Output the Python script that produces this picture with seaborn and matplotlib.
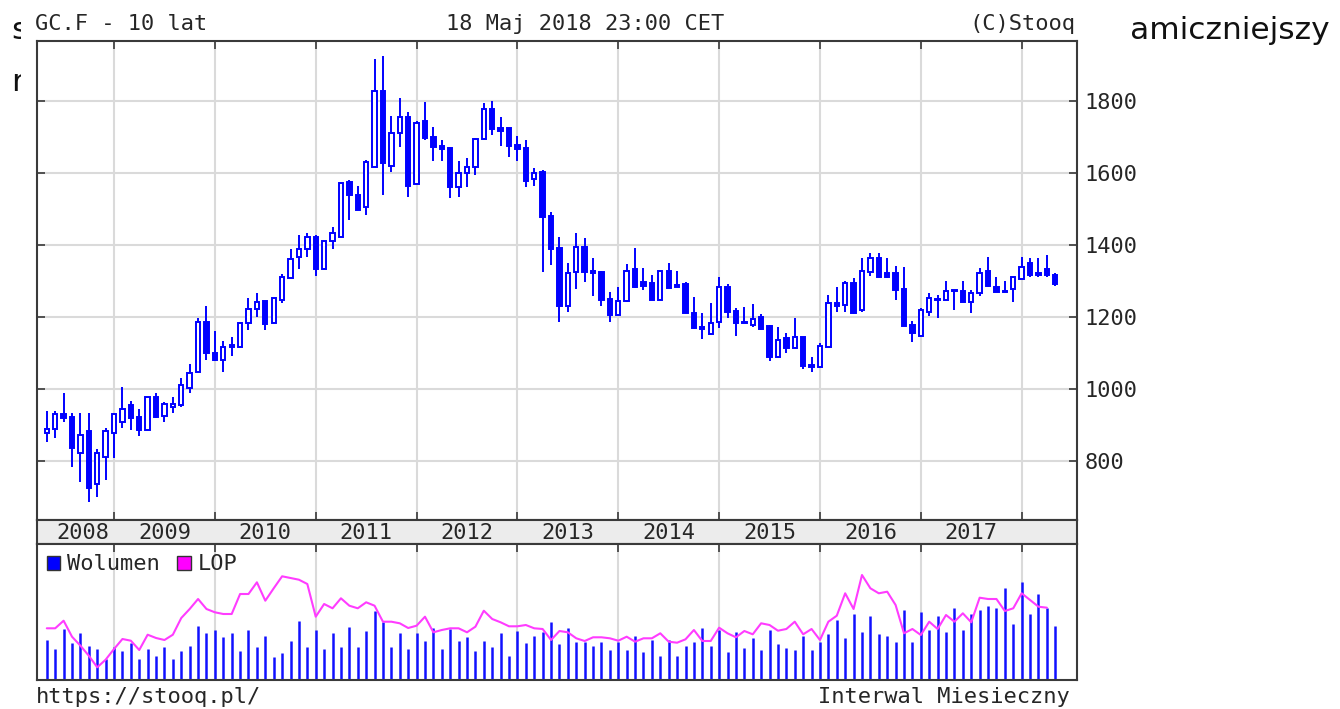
import numpy as np
import pandas as pd
import matplotlib
matplotlib.use("Agg")
import matplotlib.pyplot as plt
from matplotlib.patches import Patch, Rectangle
import seaborn as sns

# ---------------- GC.F, monthly candles May 2008 - May 2018 ----------------
miesiace = pd.date_range("2008-05-01", periods=121, freq="MS")

otwarcie = [878, 888, 930, 923, 822, 883, 737, 810, 877, 909, 955, 923, 886, 978, 926, 951, 956, 1004, 1048, 1185,
            1099, 1081, 1121, 1116, 1182, 1221, 1245, 1182, 1247, 1309, 1366, 1389, 1423, 1333, 1412, 1423, 1575, 1540, 1506, 1616,
            1829, 1619, 1710, 1756, 1569, 1745, 1701, 1675, 1669, 1560, 1601, 1616, 1694, 1777, 1724, 1724, 1678, 1669, 1582, 1604,
            1481, 1391, 1231, 1326, 1395, 1329, 1324, 1250, 1206, 1244, 1333, 1298, 1295, 1247, 1329, 1289, 1292, 1212, 1171, 1153,
            1187, 1284, 1217, 1184, 1178, 1199, 1176, 1088, 1141, 1113, 1145, 1067, 1060, 1116, 1240, 1233, 1295, 1219, 1326, 1363,
            1323, 1323, 1277, 1178, 1147, 1215, 1251, 1247, 1276, 1272, 1242, 1266, 1329, 1282, 1273, 1277, 1305, 1351, 1323, 1333,
            1317]
maksimum = [940, 940, 990, 932, 934, 934, 832, 891, 934, 1006, 967, 943, 978, 990, 965, 979, 1030, 1070, 1196, 1231,
            1161, 1134, 1145, 1184, 1252, 1266, 1245, 1254, 1320, 1389, 1428, 1434, 1428, 1412, 1449, 1571, 1581, 1563, 1637, 1918,
            1925, 1758, 1807, 1770, 1745, 1798, 1729, 1692, 1671, 1632, 1641, 1696, 1794, 1801, 1756, 1726, 1702, 1692, 1615, 1608,
            1492, 1423, 1351, 1434, 1419, 1363, 1329, 1269, 1284, 1347, 1391, 1335, 1317, 1329, 1351, 1329, 1298, 1256, 1212, 1240,
            1312, 1292, 1224, 1229, 1236, 1207, 1178, 1173, 1156, 1196, 1145, 1090, 1129, 1261, 1284, 1301, 1307, 1363, 1379, 1379,
            1363, 1342, 1340, 1190, 1224, 1268, 1261, 1301, 1276, 1301, 1275, 1335, 1367, 1310, 1301, 1310, 1367, 1363, 1363, 1372,
            1321]
minimum = [854, 863, 909, 784, 741, 685, 700, 747, 807, 891, 886, 869, 886, 918, 908, 934, 949, 990, 1048, 1081,
           1078, 1048, 1092, 1116, 1164, 1201, 1164, 1182, 1240, 1309, 1333, 1366, 1314, 1333, 1389, 1423, 1469, 1498, 1482, 1616,
           1539, 1604, 1671, 1532, 1569, 1692, 1632, 1632, 1530, 1533, 1562, 1594, 1694, 1706, 1675, 1644, 1632, 1560, 1565, 1326,
           1344, 1187, 1215, 1277, 1298, 1258, 1231, 1187, 1206, 1243, 1280, 1275, 1247, 1247, 1280, 1284, 1210, 1166, 1138, 1150,
           1169, 1196, 1147, 1182, 1173, 1164, 1079, 1085, 1101, 1113, 1055, 1048, 1060, 1116, 1215, 1215, 1208, 1215, 1314, 1312,
           1307, 1247, 1175, 1130, 1147, 1203, 1196, 1247, 1219, 1242, 1210, 1258, 1282, 1270, 1269, 1242, 1305, 1312, 1312, 1312,
           1285]
zamkniecie = [889, 930, 918, 835, 872, 726, 822, 884, 930, 944, 920, 886, 978, 923, 958, 958, 1011, 1044, 1187, 1099,
              1081, 1116, 1117, 1184, 1221, 1242, 1181, 1252, 1312, 1361, 1389, 1423, 1333, 1412, 1434, 1571, 1538, 1498, 1630, 1829,
              1627, 1712, 1756, 1564, 1740, 1696, 1671, 1666, 1560, 1601, 1618, 1694, 1777, 1721, 1718, 1676, 1666, 1578, 1600, 1477,
              1388, 1231, 1323, 1395, 1324, 1321, 1247, 1206, 1245, 1328, 1282, 1287, 1247, 1329, 1280, 1284, 1210, 1169, 1167, 1183,
              1282, 1215, 1182, 1182, 1194, 1166, 1088, 1136, 1113, 1145, 1064, 1060, 1118, 1240, 1231, 1295, 1210, 1329, 1363, 1312,
              1312, 1275, 1175, 1155, 1219, 1252, 1247, 1272, 1272, 1242, 1266, 1323, 1286, 1270, 1269, 1310, 1338, 1317, 1317, 1317,
              1292]
wolumen = [40.3, 31, 51, 36.7, 46.7, 34.3, 31, 21, 33.3, 28.7, 36.7, 21, 31, 24.3, 32.7, 21, 28.7, 34.3, 54.3, 46.7,
           50.3, 42.7, 46.7, 28.7, 50.3, 32.7, 44.3, 22.7, 26.7, 38.7, 58.7, 32.7, 50.3, 30.7, 46.7, 32.7, 52.7, 32.7, 48.7, 68.7,
           57.7, 32.7, 46.7, 30.7, 46.7, 38.7, 52, 30.7, 51, 38.7, 42.7, 28.7, 38.7, 32.7, 46.7, 24.3, 48.7, 36.7, 44.3, 48.3,
           57.7, 35.7, 51.7, 37.7, 38.3, 33.7, 37.7, 29.7, 38.3, 29.7, 43.7, 27.7, 40.3, 23.7, 39.7, 23.7, 33.7, 37.7, 51.7, 33.7,
           49.7, 27.7, 47.7, 31.7, 41.7, 29.7, 49.7, 35.7, 31.7, 29.7, 43.7, 29.7, 37.7, 45.7, 59.7, 41.7, 65.7, 47.7, 63.7, 45.7,
           43.7, 37.7, 69.7, 37.7, 67.7, 49.7, 63.7, 47.7, 71.7, 49.7, 65.7, 69.7, 73.7, 71.7, 91.7, 55.7, 97.7, 65.7, 85.7, 71.7,
           53.7]
lop = [51.7, 51.7, 59.3, 43.3, 34.3, 24.3, 12.7, 20.3, 31, 41, 39.3, 30, 45.3, 42, 40, 45.3, 62, 71, 81, 71,
       67.7, 66, 66, 86, 86, 97.7, 79.3, 91.7, 103.7, 102, 100.3, 96, 63.3, 76, 71.7, 81.7, 74.3, 71.7, 77.7, 74.3,
       58.3, 58.3, 56.7, 52, 54.3, 63.3, 47.7, 50, 51.7, 51.7, 47.7, 53.3, 69.3, 61, 57.7, 53.7, 53.7, 55, 51.7, 51,
       40, 49, 47.7, 41.7, 39, 42.7, 42.7, 41.7, 39.3, 43.3, 38.3, 41.7, 41.7, 46.7, 38.3, 37.3, 40.7, 50, 39, 39,
       52.3, 46.7, 42.7, 49, 45.7, 56.7, 55, 49.3, 51, 58.3, 45.7, 51, 40, 58.3, 64.3, 86.7, 71, 105, 91.7, 86.7,
       88.3, 75, 46.7, 51, 45, 58.3, 51, 65, 58.3, 66.7, 57.7, 82.3, 81, 81, 69, 71.7, 86.7, 80, 73.3, 72.3]
poziomy_cen = [800, 1000, 1200, 1400, 1600, 1800]
lata = list(range(2008, 2018))

# ---------------- layout helpers (pixel coordinates) ----------------
W, H = 1340, 709


def box(x0, y0, x1, y1):
    return [x0 / W, 1 - y1 / H, (x1 - x0) / W, (y1 - y0) / H]


def fx(x):
    return x / W


def fy(y):
    return 1 - y / H


BLUE = "#0000ff"
VOL_BLUE = "#1010ff"
MAGENTA = "#ff3cff"
FRAME = "#3a3a3a"
GRID = "#dadada"
TXT = "#262626"
FS = 15.8

sns.set_theme(style="white")
plt.rcParams["font.family"] = ["DejaVu Sans Mono"]

fig = plt.figure(figsize=(W / 100, H / 100), dpi=100)
fig.patch.set_facecolor("white")

# page text around the chart, partly hidden behind it
bg_font = dict(family=["DejaVu Sans"], fontsize=22.5, color="#111111", zorder=-3)
fig.text(fx(11), fy(39), "s", ha="left", va="baseline", **bg_font)
fig.text(fx(11), fy(91), "r", ha="left", va="baseline", **bg_font)
fig.text(fx(1330), fy(39), "dynamiczniejszy", ha="right", va="baseline", **bg_font)
fig.patches.append(Rectangle((fx(20.5), 0), fx(1130) - fx(20.5), 1, transform=fig.transFigure,
                             facecolor="white", edgecolor="none", zorder=-2))

x = np.arange(len(miesiace))
o = np.array(otwarcie, float)
c = np.array(zamkniecie, float)
hi = np.array(maksimum, float)
lo = np.array(minimum, float)
xmin, xmax = (36.5 - 46.8) / 8.404, (1076.7 - 46.8) / 8.404
styczen = [i for i, m in enumerate(miesiace) if m.month == 1]

ax = fig.add_axes(box(36.5, 41, 1076.7, 520))
ax_band = fig.add_axes(box(36.5, 520, 1076.7, 544))
ax_vol = fig.add_axes(box(36.5, 544, 1076.7, 680))

for a in (ax, ax_band, ax_vol):
    a.set_xlim(xmin, xmax)
    for s in a.spines.values():
        s.set_visible(True)
        s.set_color(FRAME)
        s.set_linewidth(1.5)

# ---------------- price panel ----------------
ax.set_ylim(636, 1966.7)
ax.set_xticks(styczen)
ax.set_yticks(poziomy_cen)
ax.grid(True, color=GRID, linewidth=1.5)
ax.set_axisbelow(True)
ax.tick_params(axis="both", direction="in", length=6, width=1.2, color=FRAME,
               top=True, bottom=True, left=True, right=True,
               labelbottom=False, labelleft=False, labelright=True,
               labelsize=FS, labelcolor=TXT, pad=5.5)
ax.set_xticklabels([])

wzrost = c >= o
ax.vlines(x, lo, hi, color=BLUE, linewidth=1.4, zorder=2)
dol = np.minimum(o, c)
wys = np.maximum(np.abs(c - o), 3.0)
ax.bar(x[wzrost], wys[wzrost], bottom=dol[wzrost], width=0.52,
       facecolor="white", edgecolor=BLUE, linewidth=1.4, zorder=3)
ax.bar(x[~wzrost], wys[~wzrost], bottom=dol[~wzrost], width=0.52,
       facecolor=BLUE, edgecolor=BLUE, linewidth=1.4, zorder=3)

# ---------------- year band ----------------
ax_band.set_facecolor("#ececec")
ax_band.set_ylim(0, 1)
ax_band.set_xticks([])
ax_band.set_yticks([])
for rok in lata:
    if rok == 2008:
        pos = 4.3
    else:
        pos = styczen[rok - 2009] + 6
    ax_band.text(pos, 0.47, str(rok), ha="center", va="center", fontsize=FS, color=TXT)

# ---------------- volume / open interest panel ----------------
ax_vol.set_ylim(0, 136)
ax_vol.set_xticks(styczen)
ax_vol.set_yticks([])
ax_vol.grid(True, axis="x", color=GRID, linewidth=1.5)
ax_vol.set_axisbelow(True)
ax_vol.tick_params(axis="x", direction="in", length=6, width=1.2, color=FRAME,
                   top=True, bottom=False, labelbottom=False)
ax_vol.vlines(x, 0, wolumen, color=VOL_BLUE, linewidth=1.8, zorder=2)
sns.lineplot(x=x[:len(lop)], y=lop, ax=ax_vol, color=MAGENTA, linewidth=1.5, zorder=3)
ax_vol.set_xlabel("")
ax_vol.set_ylabel("")

uchwyty = [Patch(facecolor=BLUE, edgecolor="#333333", linewidth=1.0),
           Patch(facecolor="#ff00ff", edgecolor="#333333", linewidth=1.0)]
ax_vol.legend(uchwyty, ["Wolumen", "LOP"], ncol=2, loc="upper left",
              bbox_to_anchor=((46.7 - 36.5) / 1040.2, 1 - (554.5 - 544) / 136),
              frameon=False, fontsize=FS, handlelength=0.62, handleheight=0.62,
              handletextpad=0.3, columnspacing=0.8, borderpad=0, borderaxespad=0,
              labelcolor=TXT)

# ---------------- captions ----------------
fig.text(fx(35), fy(23.5), "GC.F - 10 lat", ha="left", va="center", fontsize=FS, color=TXT)
fig.text(fx(585), fy(23.5), "18 Maj 2018 23:00 CET", ha="center", va="center", fontsize=FS, color=TXT)
fig.text(fx(1075), fy(23.5), "(C)Stooq", ha="right", va="center", fontsize=FS, color=TXT)
fig.text(fx(36), fy(697), "https://stooq.pl/", ha="left", va="center", fontsize=FS, color=TXT)
fig.text(fx(1070), fy(697), "Interwal Miesieczny", ha="right", va="center", fontsize=FS, color=TXT)

fig.savefig("out.png", dpi=100)
